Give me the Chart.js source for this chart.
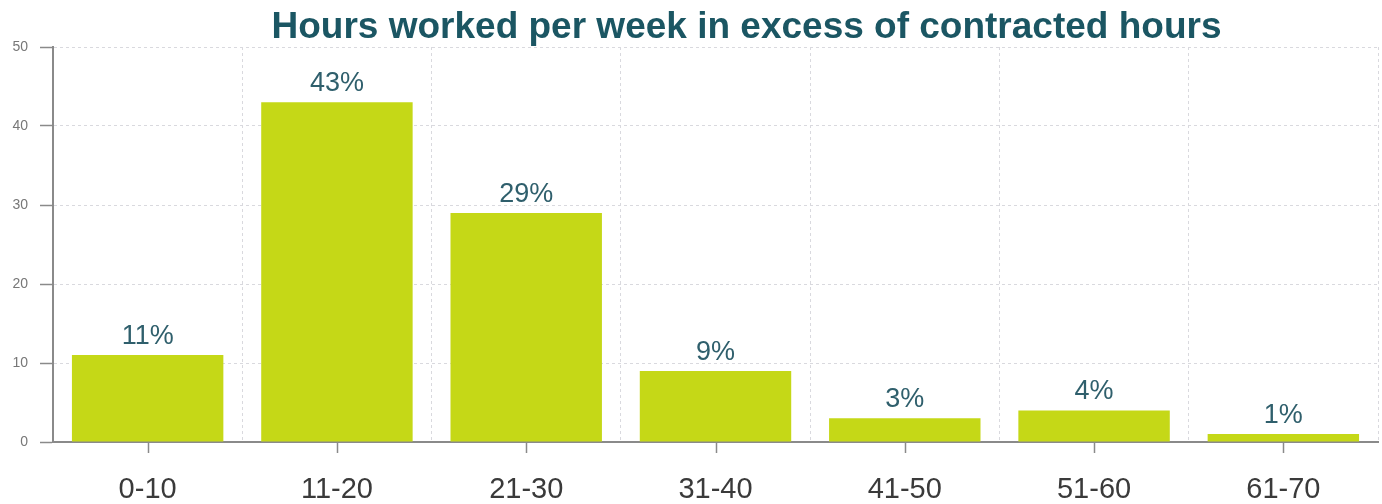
<!DOCTYPE html>
<html>
<head>
<meta charset="utf-8">
<script src="https://cdn.jsdelivr.net/npm/chart.js@4/dist/chart.umd.min.js"></script>
<style>
  html, body { margin: 0; padding: 0; background: #ffffff; }
  #wrap { width: 1382px; height: 504px; position: relative; }
</style>
</head>
<body>
<div id="wrap"><canvas id="chart" width="1382" height="504"></canvas></div>
<script>
// Hours-over-contract bands and the share of respondents in each (%)
const categories = ['0-10', '11-20', '21-30', '31-40', '41-50', '51-60', '61-70'];
const shares = [11, 43, 29, 9, 3, 4, 1];
const yTicks = [0, 10, 20, 30, 40, 50];
const chartTitle = 'Hours worked per week in excess of contracted hours';

const TEAL = '#1b5663';
const LABEL_TEAL = '#2f5f6c';
const BAR = '#c5d817';
const AXIS = '#8a8a8a';
const GRID = '#d9d9de';

// Bold title centred over the plot
const titlePlugin = {
  id: 'titleText',
  afterDraw(chart) {
    const { ctx, chartArea } = chart;
    ctx.save();
    ctx.font = 'bold 37px "Liberation Sans", Arial, sans-serif';
    ctx.fillStyle = TEAL;
    ctx.textAlign = 'center';
    ctx.textBaseline = 'alphabetic';
    ctx.fillText(chartTitle, (chartArea.left + chartArea.right) / 2 + 31, 38);
    ctx.restore();
  }
};

// Percentage label above every bar
const valueLabels = {
  id: 'valueLabels',
  afterDatasetsDraw(chart) {
    const { ctx } = chart;
    const meta = chart.getDatasetMeta(0);
    const data = chart.data.datasets[0].data;
    ctx.save();
    ctx.font = '27px "Liberation Sans", Arial, sans-serif';
    ctx.fillStyle = LABEL_TEAL;
    ctx.textAlign = 'center';
    ctx.textBaseline = 'alphabetic';
    meta.data.forEach((bar, i) => {
      ctx.fillText(data[i] + '%', bar.x, bar.y - 11);
    });
    ctx.restore();
  }
};

// Short tick marks under the category centres
const xTickMarks = {
  id: 'xTickMarks',
  afterDraw(chart) {
    const { ctx, chartArea } = chart;
    const xs = chart.scales.x;
    ctx.save();
    ctx.strokeStyle = AXIS;
    ctx.lineWidth = 1.5;
    xs.ticks.forEach((t, i) => {
      const x = Math.round(xs.getPixelForTick(i)) + 0.5;
      ctx.beginPath();
      ctx.moveTo(x, chartArea.bottom);
      ctx.lineTo(x, chartArea.bottom + 11);
      ctx.stroke();
    });
    ctx.restore();
  }
};

new Chart(document.getElementById('chart'), {
  type: 'bar',
  data: {
    labels: categories,
    datasets: [{
      data: shares,
      backgroundColor: BAR,
      borderWidth: 0,
      barPercentage: 0.8,
      categoryPercentage: 1.0
    }]
  },
  options: {
    responsive: false,
    animation: false,
    devicePixelRatio: 1,
    layout: { padding: { top: 47, right: 4, left: 0, bottom: 0 } },
    plugins: {
      legend: { display: false },
      title: { display: false },
      tooltip: { enabled: false }
    },
    scales: {
      x: {
        grid: {
          display: true,
          offset: true,
          color: GRID,
          lineWidth: 1,
          drawTicks: false
        },
        border: { display: true, color: AXIS, width: 2, dash: [3, 3] },
        ticks: {
          color: '#3a3a3a',
          font: { family: '"Liberation Sans", Arial, sans-serif', size: 29 },
          padding: 31
        },
        afterFit(scale) { scale.height = 62; }
      },
      y: {
        min: 0,
        max: 50,
        afterBuildTicks(scale) { scale.ticks = yTicks.map(v => ({ value: v })); },
        grid: {
          color: GRID,
          lineWidth: 1,
          tickLength: 13,
          tickColor: AXIS,
          tickWidth: 1.5,
          tickBorderDash: []
        },
        border: { display: true, color: AXIS, width: 2, dash: [3, 3] },
        ticks: {
          color: '#777777',
          font: { family: '"Liberation Sans", Arial, sans-serif', size: 14 },
          padding: 12
        },
        afterFit(scale) { scale.width = 53; }
      }
    }
  },
  plugins: [titlePlugin, valueLabels, xTickMarks]
});
</script>
</body>
</html>
